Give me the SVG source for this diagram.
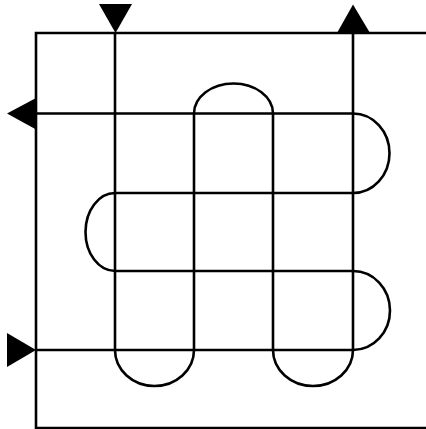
<svg xmlns="http://www.w3.org/2000/svg" width="426" height="429" viewBox="0 0 426 429">
<style>
.s{fill:none;stroke:#000;stroke-width:2.6}
.a{fill:#000;stroke:none}
</style>
<rect width="426" height="429" fill="#fff"/>
<g id="frame">
<path class="s" d="M426,33 H36 V428 H426"/>
</g>
<g id="connectors">
<path class="s" d="M115,33 V350 M194,113 V350 M273,113 V350 M353,33 V350"/>
<path class="s" d="M36,113.5 H353 M115,193 H353 M115,271 H353 M36,350 H353"/>
<path class="s" d="M194,113.5 A39.5,30 0 0 1 273,113.5"/>
<path class="s" d="M353,113.5 A36.5,39.75 0 0 1 353,193"/>
<path class="s" d="M115,193 A29.5,39 0 0 0 115,271"/>
<path class="s" d="M353,271 A37,39.5 0 0 1 353,350"/>
<path class="s" d="M115,350 A39.5,36 0 0 0 194,350"/>
<path class="s" d="M273,350 A40,36 0 0 0 353,350"/>
</g>
<g id="arrows">
<polygon class="a" points="99,4 132,4 115.5,33"/>
<polygon class="a" points="337,33 370,33 353,4.5"/>
<polygon class="a" points="37,97.5 37,130 7,113.5"/>
<polygon class="a" points="7,333 7,367 36,350"/>
</g>
</svg>
